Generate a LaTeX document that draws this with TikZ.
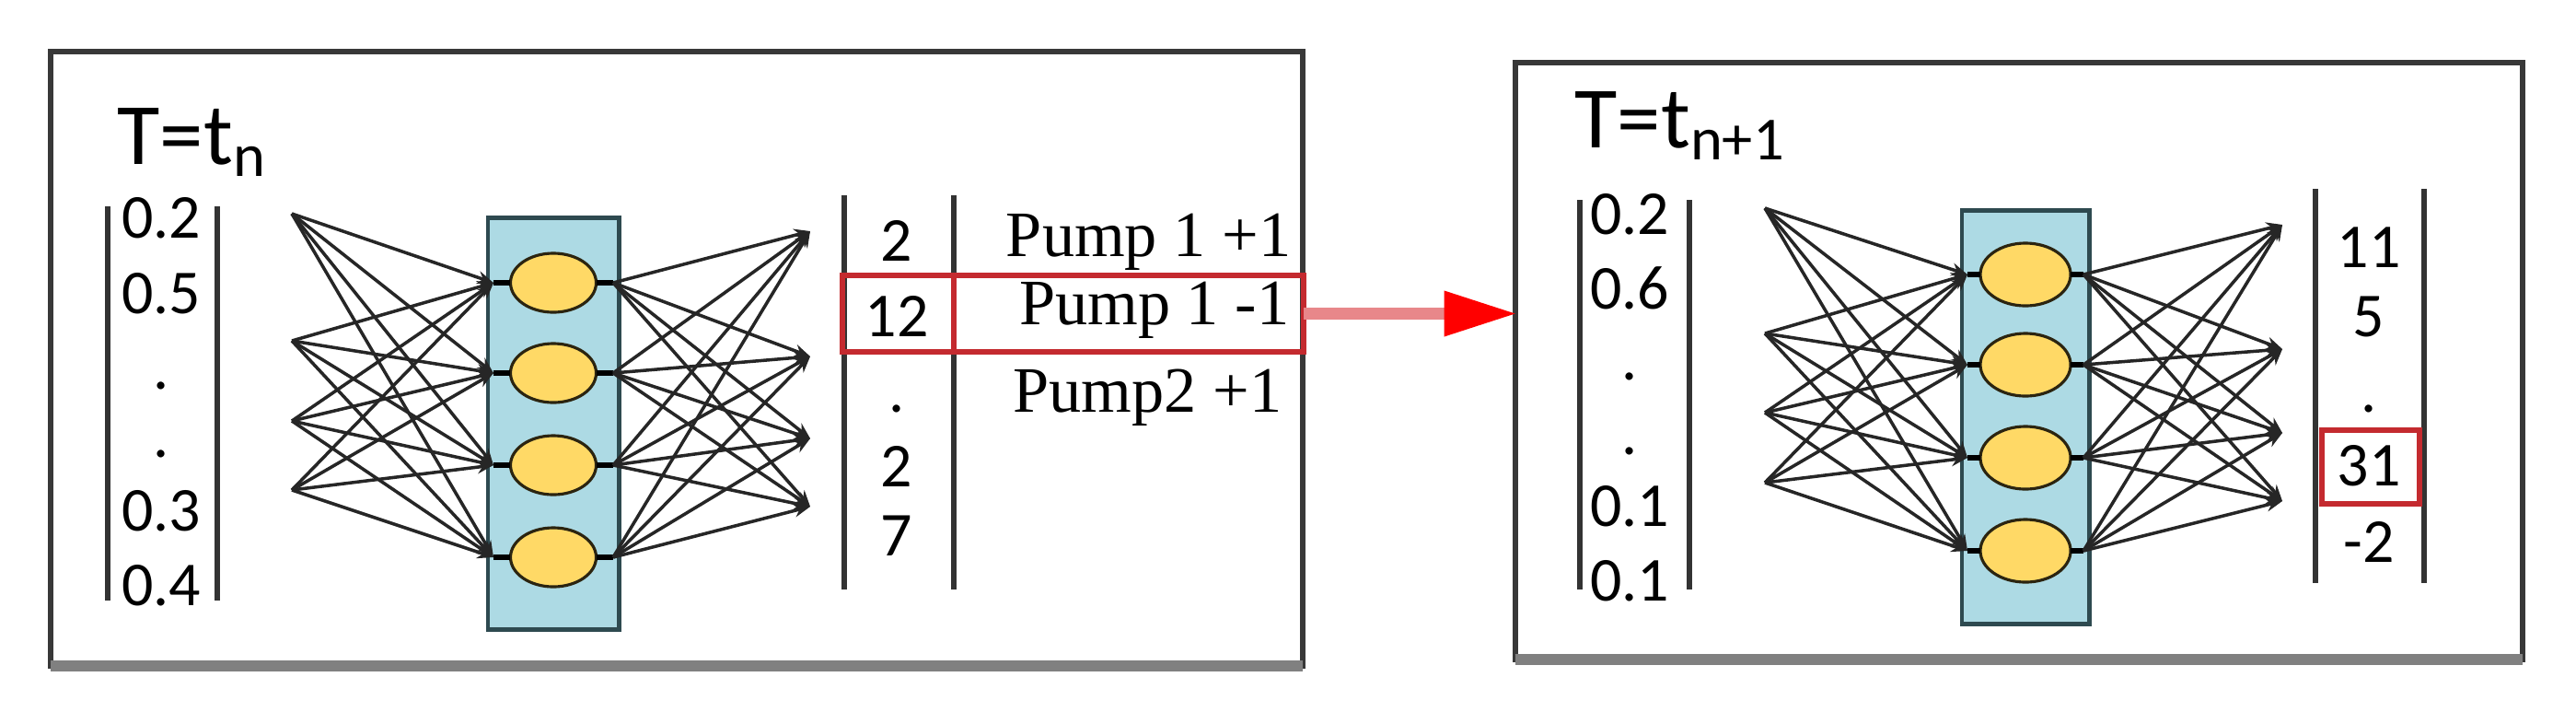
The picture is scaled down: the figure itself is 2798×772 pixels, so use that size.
\documentclass[tikz,border=0pt]{standalone}
\usepackage{fontspec}
\setmainfont{Carlito}
\newfontfamily\pumpfont{Liberation Serif}
\usetikzlibrary{arrows.meta,shapes.geometric}
\definecolor{boxline}{HTML}{383838}
\definecolor{shadowgray}{HTML}{808080}
\definecolor{hidfill}{HTML}{ADDAE4}
\definecolor{hidline}{HTML}{2E4A50}
\definecolor{neuronfill}{HTML}{FFD966}
\definecolor{neuronline}{HTML}{2B2410}
\definecolor{hlred}{HTML}{C42A2F}
\definecolor{shaftpink}{HTML}{E8878A}
\definecolor{barcol}{HTML}{333333}
\tikzset{
  frame/.style={draw=boxline, line width=1.7pt, inner sep=0pt, outer sep=0pt},
  shadowedge/.style={draw=shadowgray, line width=3.5pt},
  hidden/.style={draw=hidline, fill=hidfill, line width=1.4pt, inner sep=0pt, outer sep=0pt},
  neuron/.style={ellipse, draw=neuronline, fill=neuronfill, line width=0.9pt, inner sep=0pt, outer sep=0pt},
  link/.style={draw=black!85, line width=1pt, -{Stealth[length=5pt,width=4pt]}},
  stub/.style={draw=black, line width=1.8pt},
  vbar/.style={draw=barcol, line width=1.5pt},
  num/.style={anchor=base, inner sep=0pt, font=\fontsize{19.3pt}{22pt}\selectfont},
  pump/.style={anchor=base east, inner sep=0pt, font=\pumpfont\fontsize{20pt}{24pt}\selectfont},
  tlabel/.style={anchor=base west, inner sep=0pt, font=\fontsize{27pt}{32pt}\selectfont},
  redhl/.style={draw=hlred, line width=1.7pt, inner sep=0pt, outer sep=0pt},
  shaft/.style={draw=shaftpink, line width=3.7pt, -{Triangle[length=0.77cm, width=0.5cm, line width=0pt, color=red]}}
}
\begin{document}
\begin{tikzpicture}[x=0.01cm, y=-0.01cm]
\useasboundingbox (0,0) rectangle (2798,772);
% ---------- frames ----------
\node[frame, minimum width=13.6cm, minimum height=6.67cm] (leftbox) at (735,389.5) {};
\draw[shadowedge] (leftbox.south west) -- (leftbox.south east);
\node[frame, minimum width=10.94cm, minimum height=6.48cm] (rightbox) at (2193,392) {};
\draw[shadowedge] (rightbox.south west) -- (rightbox.south east);
% ---------- labels ----------
\node[tlabel] (Ltime) at (127,178) {T=t\textsubscript{n}};
\node[tlabel] (Rtime) at (1710,160) {T=t\textsubscript{n+1}};
% ---------- left panel: input vector ----------
\draw[vbar] (117,224) -- (117,652);
\draw[vbar] (236,224) -- (236,652);
\node[num] (Lv1) at (175,258) {0.2};
\node[num] (Lv2) at (175,340) {0.5};
\node[num] (Lv3) at (175,422) {.};
\node[num] (Lv4) at (175,496) {.};
\node[num] (Lv5) at (175,576) {0.3};
\node[num] (Lv6) at (175,657) {0.4};
% ---------- left panel: network ----------
\node[hidden, minimum width=1.42cm, minimum height=4.46cm] (Lhid) at (601,460) {};
\foreach \i/\y in {1/307,2/405,3/505,4/605}{
  \node[neuron, minimum width=0.93cm, minimum height=0.64cm] (Lh\i) at (601,\y) {};
  \coordinate (Lhw\i) at (536,\y);
  \coordinate (Lhe\i) at (666,\y);
  \draw[stub] (Lhw\i) -- (Lh\i.west);
  \draw[stub] (Lh\i.east) -- (Lhe\i);
}
\foreach \i/\y in {1/232,2/370,3/457,4/532}
  \coordinate (Lin\i) at (317,\y);
\foreach \i/\y in {1/251,2/387,3/476,4/550}
  \coordinate (Lout\i) at (880,\y);
\foreach \a in {1,...,4}
  \foreach \b in {1,...,4} {
    \draw[link] (Lin\a) -- (Lhw\b);
    \draw[link] (Lhe\b) -- (Lout\a);
  }
% ---------- left panel: output vector ----------
\draw[vbar] (917,212) -- (917,640);
\draw[vbar] (1036,212) -- (1036,640);
\node[num] (Lo1) at (974,283) {2};
\node[num] (Lo2) at (974,365) {12};
\node[num] (Lo3) at (974,447) {.};
\node[num] (Lo4) at (974,528) {2};
\node[num] (Lo5) at (974,603) {7};
\node[pump] (P1) at (1403,278) {Pump 1 +1};
\node[pump] (P2) at (1401,352) {Pump 1 -1};
\node[pump] (P3) at (1393,447) {Pump2 +1};
% highlighted row
\node[redhl, minimum width=5.01cm, minimum height=0.83cm] (redbox) at (1165.5,340.5) {};
\coordinate (divx) at (1036,0);
\draw[redhl] (redbox.north -| divx) -- (redbox.south -| divx);
% ---------- arrow ----------
\draw[shaft] (redbox.east) -- (rightbox.west |- redbox.east);
% ---------- right panel: input vector ----------
\draw[vbar] (1716,217) -- (1716,640);
\draw[vbar] (1835,217) -- (1835,640);
\node[num] (Rv1) at (1770,254) {0.2};
\node[num] (Rv2) at (1770,335) {0.6};
\node[num] (Rv3) at (1770,412) {.};
\node[num] (Rv4) at (1770,493) {.};
\node[num] (Rv5) at (1770,571) {0.1};
\node[num] (Rv6) at (1770,652) {0.1};
% ---------- right panel: network ----------
\node[hidden, minimum width=1.38cm, minimum height=4.48cm] (Rhid) at (2200,453) {};
\foreach \i/\y in {1/298,2/396,3/497,4/598}{
  \node[neuron, minimum width=0.98cm, minimum height=0.68cm] (Rh\i) at (2200,\y) {};
  \coordinate (Rhw\i) at (2137,\y);
  \coordinate (Rhe\i) at (2263,\y);
  \draw[stub] (Rhw\i) -- (Rh\i.west);
  \draw[stub] (Rh\i.east) -- (Rhe\i);
}
\foreach \i/\y in {1/226,2/362,3/448,4/524}
  \coordinate (Rin\i) at (1917,\y);
\foreach \i/\y in {1/244,2/379,3/470,4/544}
  \coordinate (Rout\i) at (2479,\y);
\foreach \a in {1,...,4}
  \foreach \b in {1,...,4} {
    \draw[link] (Rin\a) -- (Rhw\b);
    \draw[link] (Rhe\b) -- (Rout\a);
  }
% ---------- right panel: output vector ----------
\draw[vbar] (2515,205) -- (2515,633);
\draw[vbar] (2633,205) -- (2633,633);
\node[num] (Ro1) at (2573,290) {11};
\node[num] (Ro2) at (2573,365) {5};
\node[num] (Ro3) at (2573,447) {.};
\node[num] (Ro4) at (2573,527) {31};
\node[num] (Ro5) at (2573,610) {-2};
\node[redhl, minimum width=1.06cm, minimum height=0.80cm] (redcell) at (2575,507) {};
\end{tikzpicture}
\end{document}
